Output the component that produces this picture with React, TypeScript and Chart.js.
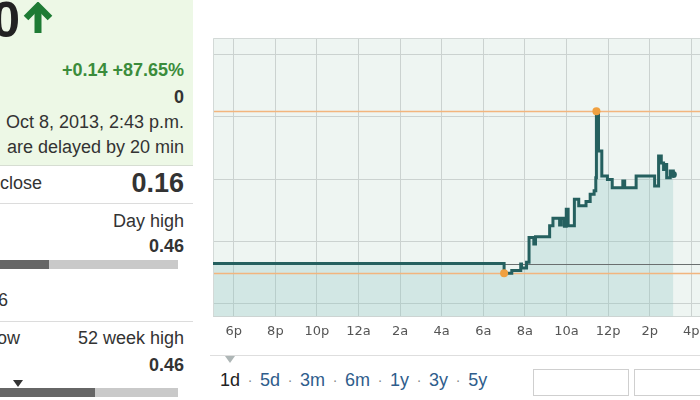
import React, { useEffect, useRef } from 'react';
import { Chart, registerables } from 'chart.js';

Chart.register(...registerables);

// ---- data (time = hours since midnight of Oct 7; 17 = 5 p.m., 31 = 7 a.m. Oct 8) ----
const tradeHours = [
  17, 31.0, 31.37, 31.8, 31.84, 32.08, 32.2, 32.43, 32.51, 33.19, 33.35, 33.67, 33.75,
  33.9, 33.99, 34.08, 34.38, 34.59, 34.94, 35.14, 35.33, 35.41, 35.44, 35.54, 35.7,
  35.97, 36.2, 36.71, 36.8, 37.35, 38.24, 38.43, 38.56, 38.67, 38.75, 38.82, 38.99, 39.14,
];
const tradePrices = [
  0.164, 0.1485, 0.153, 0.1635, 0.157, 0.166, 0.206, 0.1955, 0.207, 0.225, 0.237, 0.226,
  0.237, 0.224, 0.2515, 0.225, 0.2675, 0.257, 0.264, 0.2755, 0.281, 0.302, 0.409, 0.345,
  0.305, 0.2995, 0.286, 0.297, 0.286, 0.305, 0.289, 0.337, 0.326, 0.3155, 0.3235, 0.302,
  0.313, 0.3075,
];
const prevClose = 0.164;
const dayHigh = 0.409;
const dayLow = 0.1485;
const tickHours = [18, 20, 22, 24, 26, 28, 30, 32, 34, 36, 38, 40, 42];
const tickLabels = ['6p', '8p', '10p', '12a', '2a', '4a', '6a', '8a', '10a', '12p', '2p', '4p', '6p'];
const priceGrid = [0.1, 0.2, 0.3, 0.4, 0.5];
const rangeLinks = ['1d', '5d', '3m', '6m', '1y', '3y', '5y'];

const LINE = '#25605f';
const ORANGE = '#f0a040';

const chartDecor = {
  id: 'chartDecor',
  beforeDraw(chart: any) {
    const { ctx, chartArea: a } = chart;
    ctx.save();
    ctx.fillStyle = '#eef5f2';
    ctx.fillRect(a.left, a.top, a.right - a.left, a.bottom - a.top);
    ctx.restore();
  },
  beforeDatasetsDraw(chart: any) {
    const { ctx, chartArea: a, scales } = chart;
    const y = scales.y;
    const hline = (v: number, color: string, w: number) => {
      const py = Math.round(y.getPixelForValue(v)) + 0.5;
      ctx.beginPath();
      ctx.strokeStyle = color;
      ctx.lineWidth = w;
      ctx.moveTo(a.left, py);
      ctx.lineTo(a.right, py);
      ctx.stroke();
    };
    ctx.save();
    hline(dayHigh, '#f2b57e', 1.5);
    hline(dayLow, '#f2b57e', 1.5);
    hline(prevClose, '#6a6f6f', 1);
    ctx.strokeStyle = '#d3d9d7';
    ctx.lineWidth = 1;
    ctx.beginPath();
    ctx.moveTo(a.left + 0.5, a.bottom);
    ctx.lineTo(a.left + 0.5, a.top + 0.5);
    ctx.lineTo(a.right, a.top + 0.5);
    ctx.stroke();
    ctx.restore();
  },
};

function PriceChart() {
  const ref = useRef<HTMLCanvasElement | null>(null);
  useEffect(() => {
    if (!ref.current) return;
    const data = tradeHours.map((h, i) => ({ x: h, y: tradePrices[i] }));
    const highIdx = tradePrices.indexOf(Math.max(...tradePrices));
    const lowIdx = tradePrices.indexOf(Math.min(...tradePrices));
    const lastIdx = data.length - 1;
    const chart = new Chart(ref.current, {
      type: 'line',
      data: {
        datasets: [
          {
            data,
            stepped: true,
            borderColor: LINE,
            borderWidth: 3,
            fill: 'start',
            backgroundColor: 'rgba(138,197,194,0.27)',
            pointRadius: (c: any) =>
              c.dataIndex === highIdx || c.dataIndex === lowIdx ? 4 : c.dataIndex === lastIdx ? 3.5 : 0,
            pointBackgroundColor: (c: any) => (c.dataIndex === lastIdx ? LINE : ORANGE),
            pointBorderWidth: 0,
          } as any,
        ],
      },
      options: {
        responsive: false,
        animation: false,
        events: [],
        layout: { padding: { left: 2, top: 2, right: 0, bottom: 0 } },
        plugins: {
          legend: { display: false },
          tooltip: { enabled: false },
          filler: { drawTime: 'beforeDatasetsDraw' },
        } as any,
        scales: {
          x: {
            type: 'linear',
            min: 17,
            max: 43.5,
            afterBuildTicks: (s: any) => {
              s.ticks = tickHours.map((v) => ({ value: v }));
            },
            ticks: {
              callback: (v: any) => tickLabels[tickHours.indexOf(v)] ?? '',
              color: '#555',
              font: { family: 'DejaVu Sans', size: 13 },
              padding: 7,
              autoSkip: false,
              maxRotation: 0,
            },
            grid: { color: '#cbd2d0', drawTicks: false },
            border: { display: true, color: '#cfd5d3' },
          },
          y: {
            type: 'linear',
            min: 0.079,
            max: 0.527,
            afterBuildTicks: (s: any) => {
              s.ticks = priceGrid.map((v) => ({ value: v }));
            },
            ticks: { display: false },
            grid: { color: '#cbd2d0', drawTicks: false },
            border: { display: false },
          },
        },
      } as any,
      plugins: [chartDecor],
    });
    return () => chart.destroy();
  }, []);
  return (
    <canvas
      ref={ref}
      width={559}
      height={312}
      style={{ position: 'absolute', left: 209, top: 34, width: 559, height: 312 }}
    />
  );
}

function Txt(props: {
  left?: number;
  right?: number;
  cy: number;
  size: number;
  bold?: boolean;
  color?: string;
  children: React.ReactNode;
}) {
  const lh = Math.round(props.size * 1.3);
  const style: React.CSSProperties = {
    position: 'absolute',
    top: props.cy - lh / 2,
    lineHeight: lh + 'px',
    fontSize: props.size,
    fontWeight: props.bold ? 700 : 400,
    color: props.color || '#333',
    whiteSpace: 'nowrap',
  };
  if (props.right !== undefined) style.right = 700 - props.right;
  else style.left = props.left;
  return <div style={style}>{props.children}</div>;
}

function Rule({ y }: { y: number }) {
  return <div style={{ position: 'absolute', left: 0, top: y, width: 193, height: 1, background: '#dcdcdc' }} />;
}

function Bar({ y, split }: { y: number; split: number }) {
  return (
    <>
      <div style={{ position: 'absolute', left: 0, top: y, width: split, height: 9, background: '#666' }} />
      <div style={{ position: 'absolute', left: split, top: y, width: 178 - split, height: 9, background: '#c9c9c9' }} />
    </>
  );
}

export default function App() {
  return (
    <div
      style={{
        position: 'fixed',
        left: 0,
        top: 0,
        width: 700,
        height: 400,
        overflow: 'hidden',
        background: '#fff',
        fontFamily: "'Liberation Sans', Arial, sans-serif",
      }}
    >
      {/* quote panel */}
      <div style={{ position: 'absolute', left: 0, top: 0, width: 193, height: 165, background: '#edf8e6', borderBottom: '1px solid #d6ddd2' }} />
      <Txt right={20} cy={20} size={50} bold color="#222">0.30</Txt>
      <svg style={{ position: 'absolute', left: 22, top: 2 }} width={34} height={32} viewBox="0 0 34 32">
        <polyline points="4,16 16,4 28,16" fill="none" stroke="#1e7b34" strokeWidth={6.5} strokeLinejoin="miter" />
        <line x1={16} y1={6} x2={16} y2={31} stroke="#1e7b34" strokeWidth={7} />
      </svg>
      <Txt right={184} cy={70} size={18} bold color="#3b8c3b">+0.14 +87.65%</Txt>
      <Txt right={184} cy={97} size={18} bold color="#333">0</Txt>
      <Txt right={184} cy={122} size={18}>Oct 8, 2013, 2:43 p.m.</Txt>
      <Txt right={184} cy={147} size={18}>are delayed by 20 min</Txt>
      <Txt right={42} cy={183} size={18}>close</Txt>
      <Txt right={184} cy={183} size={27} bold color="#333">0.16</Txt>
      <Rule y={203} />
      <Txt right={184} cy={221} size={18}>Day high</Txt>
      <Txt right={184} cy={246} size={18} bold>0.46</Txt>
      <Bar y={260} split={49} />
      <Txt right={8} cy={300} size={18}>6</Txt>
      <Rule y={321} />
      <Txt right={20} cy={338} size={18}>ow</Txt>
      <Txt right={184} cy={338} size={18}>52 week high</Txt>
      <Txt right={184} cy={365} size={18} bold>0.46</Txt>
      <div style={{ position: 'absolute', left: 13, top: 380, width: 0, height: 0, borderLeft: '5px solid transparent', borderRight: '5px solid transparent', borderTop: '7px solid #333' }} />
      <Bar y={388} split={95} />

      {/* chart */}
      <PriceChart />

      {/* range selector */}
      <div style={{ position: 'absolute', left: 210, top: 355, width: 490, height: 1, background: '#dedede' }} />
      <div style={{ position: 'absolute', left: 225, top: 356, width: 0, height: 0, borderLeft: '5.5px solid transparent', borderRight: '5.5px solid transparent', borderTop: '7px solid #aeb6b6' }} />
      <div style={{ position: 'absolute', left: 220, top: 369, height: 22, lineHeight: '22px', fontSize: 18, display: 'flex', whiteSpace: 'nowrap' }}>
        {rangeLinks.map((r, i) => (
          <React.Fragment key={r}>
            {i > 0 && <span style={{ width: 20, textAlign: 'center', color: '#888', fontSize: 14 }}>·</span>}
            <span style={{ color: i === 0 ? '#222' : '#2f5d8c' }}>{r}</span>
          </React.Fragment>
        ))}
      </div>
      <div style={{ position: 'absolute', left: 533, top: 369, width: 96, height: 27, boxSizing: 'border-box', border: '1px solid #cfcfcf', background: '#fff' }} />
      <div style={{ position: 'absolute', left: 634, top: 369, width: 100, height: 27, boxSizing: 'border-box', border: '1px solid #cfcfcf', background: '#fff' }} />
    </div>
  );
}
